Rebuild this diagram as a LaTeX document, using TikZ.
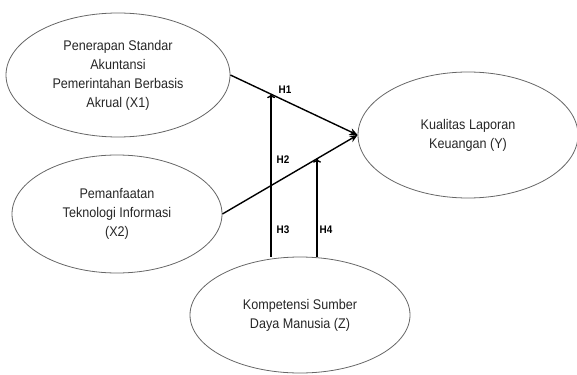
\documentclass[tikz,border=0pt]{standalone}
\usepackage{fontspec}
\setmainfont{Liberation Sans}[FakeStretch=0.9]
\usetikzlibrary{shapes.geometric,arrows.meta}

\begin{document}
\begin{tikzpicture}[x=1pt, y=-1pt]
	\tikzstyle{every node}=[font=\fontsize{14}{19}\selectfont, text=black!85]
	\tikzstyle{var}=[ellipse, draw=black!60, line width=0.8pt, align=center, inner sep=0pt]
	\tikzstyle{link}=[line width=1.4pt, -{Stealth[length=8pt, width=7pt]}]
	\tikzstyle{moder}=[line width=1.4pt, -{To[length=4pt, width=8pt]}]
	\tikzstyle{hyp}=[font=\fontsize{11}{12}\selectfont\bfseries, text=black]

	\useasboundingbox (0,0) rectangle (577,374);

	%variables
	\node[var, minimum width=224, minimum height=124] (x1) at (118,75)
		{Penerapan Standar\\Akuntansi\\Pemerintahan Berbasis\\Akrual (X1)};
	\node[var, minimum width=210, minimum height=118] (x2) at (117,214)
		{Pemanfaatan\\Teknologi Informasi\\(X2)};
	\node[var, minimum width=220, minimum height=126] (y) at (468,135)
		{Kualitas Laporan\\Keuangan (Y)};
	\node[var, minimum width=220, minimum height=116] (z) at (300,315)
		{Kompetensi Sumber\\Daya Manusia (Z)};

	%paths
	\draw[link] (x1.east) -- coordinate[pos=0.32] (m1) (y.west);
	\draw[link] (x2.east) -- coordinate[pos=0.70] (m2) (y.west);
	\draw[moder] (m1 |- z.north) -- (m1);
	\draw[moder] (m2 |- z.north) -- (m2);

	%labels
	\node[hyp] (h1) at (285,90) {H1};
	\node[hyp] (h2) at (283,160) {H2};
	\node[hyp] (h3) at (283,230) {H3};
	\node[hyp] (h4) at (326,230) {H4};
\end{tikzpicture}
\end{document}
